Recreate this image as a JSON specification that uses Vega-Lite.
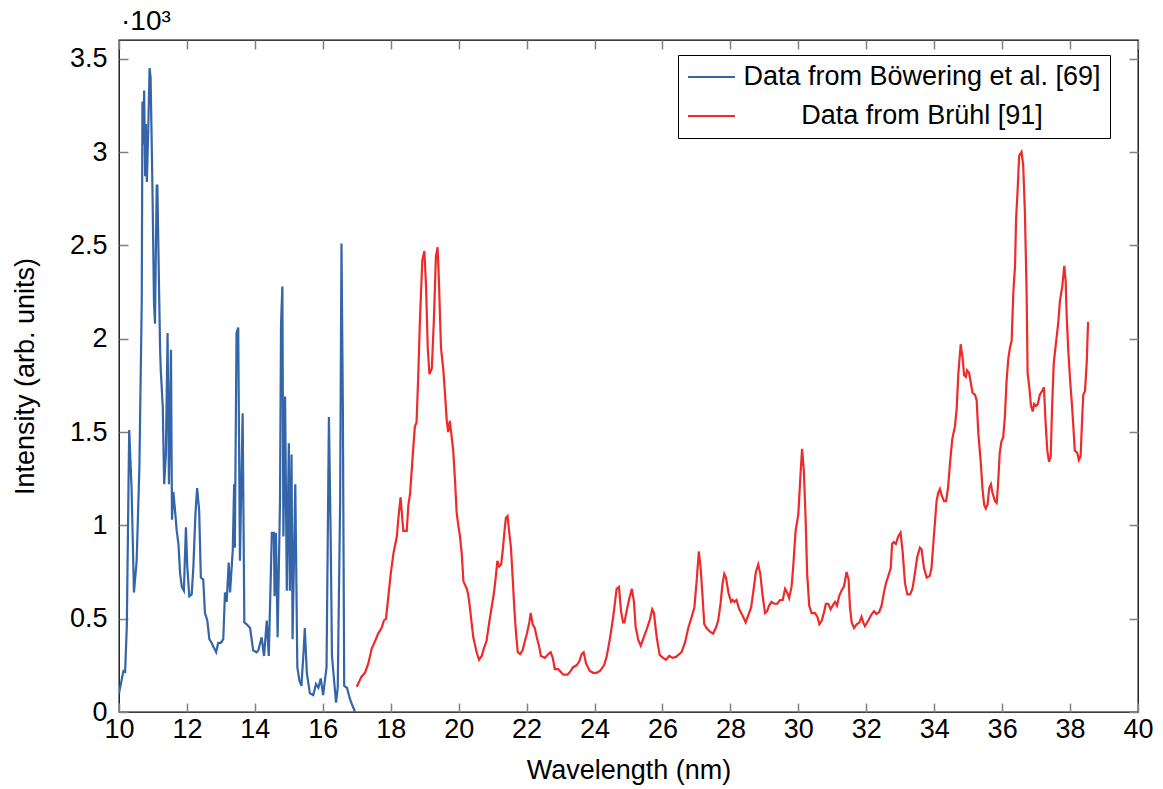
{
  "$schema": "https://vega.github.io/schema/vega-lite/v6.json",
  "width": 1019,
  "height": 672,
  "autosize": {"type": "none"},
  "padding": {"left": 119, "top": 40, "right": 25, "bottom": 77},
  "background": "white",
  "title": {"text": "·10³", "anchor": "start", "frame": "group", "font": "Liberation Sans", "fontSize": 28, "fontWeight": "normal", "color": "black", "offset": 3, "dx": 2},
  "config": {
    "view": {"stroke": "black", "strokeWidth": 1.3},
    "font": "Liberation Sans",
    "axis": {"domain": false, "grid": false, "tickColor": "#808080", "tickWidth": 1.5, "labelColor": "black", "titleColor": "black", "labelFont": "Liberation Sans", "titleFont": "Liberation Sans", "labelFontSize": 27, "titleFontSize": 27, "titleFontWeight": "normal"}
  },
  "datasets": {
    "blue": [
      {"series": "Data from Böwering et al. [69]", "wavelength": 10.00, "intensity": 100},
      {"series": "Data from Böwering et al. [69]", "wavelength": 10.13, "intensity": 220},
      {"series": "Data from Böwering et al. [69]", "wavelength": 10.18, "intensity": 215},
      {"series": "Data from Böwering et al. [69]", "wavelength": 10.23, "intensity": 460},
      {"series": "Data from Böwering et al. [69]", "wavelength": 10.30, "intensity": 1510},
      {"series": "Data from Böwering et al. [69]", "wavelength": 10.37, "intensity": 1200},
      {"series": "Data from Böwering et al. [69]", "wavelength": 10.44, "intensity": 640},
      {"series": "Data from Böwering et al. [69]", "wavelength": 10.52, "intensity": 810},
      {"series": "Data from Böwering et al. [69]", "wavelength": 10.60, "intensity": 1310},
      {"series": "Data from Böwering et al. [69]", "wavelength": 10.67, "intensity": 2200},
      {"series": "Data from Böwering et al. [69]", "wavelength": 10.69, "intensity": 3270},
      {"series": "Data from Böwering et al. [69]", "wavelength": 10.72, "intensity": 3040},
      {"series": "Data from Böwering et al. [69]", "wavelength": 10.74, "intensity": 3330},
      {"series": "Data from Böwering et al. [69]", "wavelength": 10.77, "intensity": 2870},
      {"series": "Data from Böwering et al. [69]", "wavelength": 10.79, "intensity": 3150},
      {"series": "Data from Böwering et al. [69]", "wavelength": 10.82, "intensity": 2840},
      {"series": "Data from Böwering et al. [69]", "wavelength": 10.86, "intensity": 3110},
      {"series": "Data from Böwering et al. [69]", "wavelength": 10.90, "intensity": 3450},
      {"series": "Data from Böwering et al. [69]", "wavelength": 10.93, "intensity": 3400},
      {"series": "Data from Böwering et al. [69]", "wavelength": 10.96, "intensity": 3080},
      {"series": "Data from Böwering et al. [69]", "wavelength": 10.99, "intensity": 2740},
      {"series": "Data from Böwering et al. [69]", "wavelength": 11.03, "intensity": 2190},
      {"series": "Data from Böwering et al. [69]", "wavelength": 11.06, "intensity": 2080},
      {"series": "Data from Böwering et al. [69]", "wavelength": 11.08, "intensity": 2400},
      {"series": "Data from Böwering et al. [69]", "wavelength": 11.11, "intensity": 2820},
      {"series": "Data from Böwering et al. [69]", "wavelength": 11.13, "intensity": 2820},
      {"series": "Data from Böwering et al. [69]", "wavelength": 11.18, "intensity": 2260},
      {"series": "Data from Böwering et al. [69]", "wavelength": 11.21, "intensity": 1940},
      {"series": "Data from Böwering et al. [69]", "wavelength": 11.23, "intensity": 1830},
      {"series": "Data from Böwering et al. [69]", "wavelength": 11.29, "intensity": 1630},
      {"series": "Data from Böwering et al. [69]", "wavelength": 11.30, "intensity": 1510},
      {"series": "Data from Böwering et al. [69]", "wavelength": 11.33, "intensity": 1220},
      {"series": "Data from Böwering et al. [69]", "wavelength": 11.38, "intensity": 1380},
      {"series": "Data from Böwering et al. [69]", "wavelength": 11.43, "intensity": 2030},
      {"series": "Data from Böwering et al. [69]", "wavelength": 11.47, "intensity": 1220},
      {"series": "Data from Böwering et al. [69]", "wavelength": 11.53, "intensity": 1940},
      {"series": "Data from Böwering et al. [69]", "wavelength": 11.56, "intensity": 1030},
      {"series": "Data from Böwering et al. [69]", "wavelength": 11.60, "intensity": 1180},
      {"series": "Data from Böwering et al. [69]", "wavelength": 11.65, "intensity": 1080},
      {"series": "Data from Böwering et al. [69]", "wavelength": 11.70, "intensity": 970},
      {"series": "Data from Böwering et al. [69]", "wavelength": 11.75, "intensity": 900},
      {"series": "Data from Böwering et al. [69]", "wavelength": 11.80, "intensity": 740},
      {"series": "Data from Böwering et al. [69]", "wavelength": 11.85, "intensity": 670},
      {"series": "Data from Böwering et al. [69]", "wavelength": 11.91, "intensity": 650},
      {"series": "Data from Böwering et al. [69]", "wavelength": 11.97, "intensity": 990},
      {"series": "Data from Böwering et al. [69]", "wavelength": 12.01, "intensity": 780},
      {"series": "Data from Böwering et al. [69]", "wavelength": 12.07, "intensity": 620},
      {"series": "Data from Böwering et al. [69]", "wavelength": 12.14, "intensity": 630},
      {"series": "Data from Böwering et al. [69]", "wavelength": 12.19, "intensity": 780},
      {"series": "Data from Böwering et al. [69]", "wavelength": 12.25, "intensity": 1060},
      {"series": "Data from Böwering et al. [69]", "wavelength": 12.30, "intensity": 1200},
      {"series": "Data from Böwering et al. [69]", "wavelength": 12.36, "intensity": 1080},
      {"series": "Data from Böwering et al. [69]", "wavelength": 12.41, "intensity": 720},
      {"series": "Data from Böwering et al. [69]", "wavelength": 12.48, "intensity": 710},
      {"series": "Data from Böwering et al. [69]", "wavelength": 12.53, "intensity": 530},
      {"series": "Data from Böwering et al. [69]", "wavelength": 12.60, "intensity": 490},
      {"series": "Data from Böwering et al. [69]", "wavelength": 12.66, "intensity": 390},
      {"series": "Data from Böwering et al. [69]", "wavelength": 12.73, "intensity": 370},
      {"series": "Data from Böwering et al. [69]", "wavelength": 12.78, "intensity": 350},
      {"series": "Data from Böwering et al. [69]", "wavelength": 12.86, "intensity": 320},
      {"series": "Data from Böwering et al. [69]", "wavelength": 12.92, "intensity": 370},
      {"series": "Data from Böwering et al. [69]", "wavelength": 13.00, "intensity": 370},
      {"series": "Data from Böwering et al. [69]", "wavelength": 13.07, "intensity": 390},
      {"series": "Data from Böwering et al. [69]", "wavelength": 13.12, "intensity": 640},
      {"series": "Data from Böwering et al. [69]", "wavelength": 13.17, "intensity": 590},
      {"series": "Data from Böwering et al. [69]", "wavelength": 13.23, "intensity": 800},
      {"series": "Data from Böwering et al. [69]", "wavelength": 13.27, "intensity": 640},
      {"series": "Data from Böwering et al. [69]", "wavelength": 13.35, "intensity": 870},
      {"series": "Data from Böwering et al. [69]", "wavelength": 13.39, "intensity": 1220},
      {"series": "Data from Böwering et al. [69]", "wavelength": 13.41, "intensity": 880},
      {"series": "Data from Böwering et al. [69]", "wavelength": 13.46, "intensity": 2030},
      {"series": "Data from Böwering et al. [69]", "wavelength": 13.51, "intensity": 2060},
      {"series": "Data from Böwering et al. [69]", "wavelength": 13.56, "intensity": 810},
      {"series": "Data from Böwering et al. [69]", "wavelength": 13.64, "intensity": 1600},
      {"series": "Data from Böwering et al. [69]", "wavelength": 13.69, "intensity": 480},
      {"series": "Data from Böwering et al. [69]", "wavelength": 13.76, "intensity": 470},
      {"series": "Data from Böwering et al. [69]", "wavelength": 13.86, "intensity": 450},
      {"series": "Data from Böwering et al. [69]", "wavelength": 13.95, "intensity": 330},
      {"series": "Data from Böwering et al. [69]", "wavelength": 14.05, "intensity": 320},
      {"series": "Data from Böwering et al. [69]", "wavelength": 14.10, "intensity": 330},
      {"series": "Data from Böwering et al. [69]", "wavelength": 14.20, "intensity": 400},
      {"series": "Data from Böwering et al. [69]", "wavelength": 14.27, "intensity": 300},
      {"series": "Data from Böwering et al. [69]", "wavelength": 14.35, "intensity": 490},
      {"series": "Data from Böwering et al. [69]", "wavelength": 14.41, "intensity": 300},
      {"series": "Data from Böwering et al. [69]", "wavelength": 14.50, "intensity": 960},
      {"series": "Data from Böwering et al. [69]", "wavelength": 14.56, "intensity": 960},
      {"series": "Data from Böwering et al. [69]", "wavelength": 14.58, "intensity": 620},
      {"series": "Data from Böwering et al. [69]", "wavelength": 14.62, "intensity": 960},
      {"series": "Data from Böwering et al. [69]", "wavelength": 14.67, "intensity": 400},
      {"series": "Data from Böwering et al. [69]", "wavelength": 14.74, "intensity": 1130},
      {"series": "Data from Böwering et al. [69]", "wavelength": 14.77, "intensity": 2080},
      {"series": "Data from Böwering et al. [69]", "wavelength": 14.81, "intensity": 2280},
      {"series": "Data from Böwering et al. [69]", "wavelength": 14.84, "intensity": 940},
      {"series": "Data from Böwering et al. [69]", "wavelength": 14.89, "intensity": 1690},
      {"series": "Data from Böwering et al. [69]", "wavelength": 14.94, "intensity": 650},
      {"series": "Data from Böwering et al. [69]", "wavelength": 15.00, "intensity": 1440},
      {"series": "Data from Böwering et al. [69]", "wavelength": 15.03, "intensity": 650},
      {"series": "Data from Böwering et al. [69]", "wavelength": 15.08, "intensity": 1380},
      {"series": "Data from Böwering et al. [69]", "wavelength": 15.11, "intensity": 390},
      {"series": "Data from Böwering et al. [69]", "wavelength": 15.19, "intensity": 1220},
      {"series": "Data from Böwering et al. [69]", "wavelength": 15.25, "intensity": 240},
      {"series": "Data from Böwering et al. [69]", "wavelength": 15.31, "intensity": 170},
      {"series": "Data from Böwering et al. [69]", "wavelength": 15.37, "intensity": 140},
      {"series": "Data from Böwering et al. [69]", "wavelength": 15.43, "intensity": 310},
      {"series": "Data from Böwering et al. [69]", "wavelength": 15.47, "intensity": 450},
      {"series": "Data from Böwering et al. [69]", "wavelength": 15.53, "intensity": 210},
      {"series": "Data from Böwering et al. [69]", "wavelength": 15.62, "intensity": 100},
      {"series": "Data from Böwering et al. [69]", "wavelength": 15.72, "intensity": 90},
      {"series": "Data from Böwering et al. [69]", "wavelength": 15.80, "intensity": 150},
      {"series": "Data from Böwering et al. [69]", "wavelength": 15.87, "intensity": 130},
      {"series": "Data from Böwering et al. [69]", "wavelength": 15.94, "intensity": 180},
      {"series": "Data from Böwering et al. [69]", "wavelength": 16.01, "intensity": 90},
      {"series": "Data from Böwering et al. [69]", "wavelength": 16.11, "intensity": 240},
      {"series": "Data from Böwering et al. [69]", "wavelength": 16.18, "intensity": 1580},
      {"series": "Data from Böwering et al. [69]", "wavelength": 16.23, "intensity": 960},
      {"series": "Data from Böwering et al. [69]", "wavelength": 16.27, "intensity": 300},
      {"series": "Data from Böwering et al. [69]", "wavelength": 16.39, "intensity": 50},
      {"series": "Data from Böwering et al. [69]", "wavelength": 16.44, "intensity": 130},
      {"series": "Data from Böwering et al. [69]", "wavelength": 16.51, "intensity": 1130},
      {"series": "Data from Böwering et al. [69]", "wavelength": 16.55, "intensity": 2510},
      {"series": "Data from Böwering et al. [69]", "wavelength": 16.59, "intensity": 1650},
      {"series": "Data from Böwering et al. [69]", "wavelength": 16.63, "intensity": 140},
      {"series": "Data from Böwering et al. [69]", "wavelength": 16.71, "intensity": 130},
      {"series": "Data from Böwering et al. [69]", "wavelength": 16.80, "intensity": 70},
      {"series": "Data from Böwering et al. [69]", "wavelength": 16.86, "intensity": 40},
      {"series": "Data from Böwering et al. [69]", "wavelength": 16.95, "intensity": 0}
    ],
    "red": [
      {"series": "Data from Brühl [91]", "wavelength": 17.00, "intensity": 135},
      {"series": "Data from Brühl [91]", "wavelength": 17.14, "intensity": 190},
      {"series": "Data from Brühl [91]", "wavelength": 17.24, "intensity": 210},
      {"series": "Data from Brühl [91]", "wavelength": 17.34, "intensity": 260},
      {"series": "Data from Brühl [91]", "wavelength": 17.44, "intensity": 340},
      {"series": "Data from Brühl [91]", "wavelength": 17.54, "intensity": 380},
      {"series": "Data from Brühl [91]", "wavelength": 17.63, "intensity": 420},
      {"series": "Data from Brühl [91]", "wavelength": 17.73, "intensity": 450},
      {"series": "Data from Brühl [91]", "wavelength": 17.80, "intensity": 490},
      {"series": "Data from Brühl [91]", "wavelength": 17.86, "intensity": 500},
      {"series": "Data from Brühl [91]", "wavelength": 17.93, "intensity": 620},
      {"series": "Data from Brühl [91]", "wavelength": 18.00, "intensity": 740},
      {"series": "Data from Brühl [91]", "wavelength": 18.08, "intensity": 850},
      {"series": "Data from Brühl [91]", "wavelength": 18.18, "intensity": 940},
      {"series": "Data from Brühl [91]", "wavelength": 18.22, "intensity": 1030},
      {"series": "Data from Brühl [91]", "wavelength": 18.29, "intensity": 1150},
      {"series": "Data from Brühl [91]", "wavelength": 18.37, "intensity": 970},
      {"series": "Data from Brühl [91]", "wavelength": 18.47, "intensity": 970},
      {"series": "Data from Brühl [91]", "wavelength": 18.52, "intensity": 1110},
      {"series": "Data from Brühl [91]", "wavelength": 18.57, "intensity": 1170},
      {"series": "Data from Brühl [91]", "wavelength": 18.65, "intensity": 1380},
      {"series": "Data from Brühl [91]", "wavelength": 18.71, "intensity": 1530},
      {"series": "Data from Brühl [91]", "wavelength": 18.76, "intensity": 1550},
      {"series": "Data from Brühl [91]", "wavelength": 18.81, "intensity": 1800},
      {"series": "Data from Brühl [91]", "wavelength": 18.86, "intensity": 2100},
      {"series": "Data from Brühl [91]", "wavelength": 18.93, "intensity": 2420},
      {"series": "Data from Brühl [91]", "wavelength": 18.99, "intensity": 2470},
      {"series": "Data from Brühl [91]", "wavelength": 19.04, "intensity": 2280},
      {"series": "Data from Brühl [91]", "wavelength": 19.09, "intensity": 1950},
      {"series": "Data from Brühl [91]", "wavelength": 19.14, "intensity": 1810},
      {"series": "Data from Brühl [91]", "wavelength": 19.21, "intensity": 1840},
      {"series": "Data from Brühl [91]", "wavelength": 19.27, "intensity": 2100},
      {"series": "Data from Brühl [91]", "wavelength": 19.33, "intensity": 2440},
      {"series": "Data from Brühl [91]", "wavelength": 19.38, "intensity": 2490},
      {"series": "Data from Brühl [91]", "wavelength": 19.42, "intensity": 2300},
      {"series": "Data from Brühl [91]", "wavelength": 19.48, "intensity": 1950},
      {"series": "Data from Brühl [91]", "wavelength": 19.55, "intensity": 1830},
      {"series": "Data from Brühl [91]", "wavelength": 19.60, "intensity": 1700},
      {"series": "Data from Brühl [91]", "wavelength": 19.65, "intensity": 1560},
      {"series": "Data from Brühl [91]", "wavelength": 19.69, "intensity": 1500},
      {"series": "Data from Brühl [91]", "wavelength": 19.74, "intensity": 1560},
      {"series": "Data from Brühl [91]", "wavelength": 19.79, "intensity": 1480},
      {"series": "Data from Brühl [91]", "wavelength": 19.84, "intensity": 1400},
      {"series": "Data from Brühl [91]", "wavelength": 19.89, "intensity": 1250},
      {"series": "Data from Brühl [91]", "wavelength": 19.94, "intensity": 1070},
      {"series": "Data from Brühl [91]", "wavelength": 19.99, "intensity": 1000},
      {"series": "Data from Brühl [91]", "wavelength": 20.04, "intensity": 940},
      {"series": "Data from Brühl [91]", "wavelength": 20.09, "intensity": 850},
      {"series": "Data from Brühl [91]", "wavelength": 20.14, "intensity": 700},
      {"series": "Data from Brühl [91]", "wavelength": 20.24, "intensity": 660},
      {"series": "Data from Brühl [91]", "wavelength": 20.28, "intensity": 630},
      {"series": "Data from Brühl [91]", "wavelength": 20.33, "intensity": 560},
      {"series": "Data from Brühl [91]", "wavelength": 20.38, "intensity": 480},
      {"series": "Data from Brühl [91]", "wavelength": 20.43, "intensity": 400},
      {"series": "Data from Brühl [91]", "wavelength": 20.53, "intensity": 320},
      {"series": "Data from Brühl [91]", "wavelength": 20.60, "intensity": 280},
      {"series": "Data from Brühl [91]", "wavelength": 20.68, "intensity": 300},
      {"series": "Data from Brühl [91]", "wavelength": 20.74, "intensity": 340},
      {"series": "Data from Brühl [91]", "wavelength": 20.82, "intensity": 380},
      {"series": "Data from Brühl [91]", "wavelength": 20.90, "intensity": 480},
      {"series": "Data from Brühl [91]", "wavelength": 20.97, "intensity": 560},
      {"series": "Data from Brühl [91]", "wavelength": 21.04, "intensity": 640},
      {"series": "Data from Brühl [91]", "wavelength": 21.09, "intensity": 720},
      {"series": "Data from Brühl [91]", "wavelength": 21.14, "intensity": 810},
      {"series": "Data from Brühl [91]", "wavelength": 21.19, "intensity": 780},
      {"series": "Data from Brühl [91]", "wavelength": 21.25, "intensity": 790},
      {"series": "Data from Brühl [91]", "wavelength": 21.30, "intensity": 870},
      {"series": "Data from Brühl [91]", "wavelength": 21.35, "intensity": 970},
      {"series": "Data from Brühl [91]", "wavelength": 21.39, "intensity": 1040},
      {"series": "Data from Brühl [91]", "wavelength": 21.44, "intensity": 1050},
      {"series": "Data from Brühl [91]", "wavelength": 21.49, "intensity": 960},
      {"series": "Data from Brühl [91]", "wavelength": 21.54, "intensity": 880},
      {"series": "Data from Brühl [91]", "wavelength": 21.59, "intensity": 720},
      {"series": "Data from Brühl [91]", "wavelength": 21.64, "intensity": 550},
      {"series": "Data from Brühl [91]", "wavelength": 21.69, "intensity": 420},
      {"series": "Data from Brühl [91]", "wavelength": 21.74, "intensity": 320},
      {"series": "Data from Brühl [91]", "wavelength": 21.81, "intensity": 310},
      {"series": "Data from Brühl [91]", "wavelength": 21.88, "intensity": 330},
      {"series": "Data from Brühl [91]", "wavelength": 21.95, "intensity": 380},
      {"series": "Data from Brühl [91]", "wavelength": 22.01, "intensity": 420},
      {"series": "Data from Brühl [91]", "wavelength": 22.08, "intensity": 480},
      {"series": "Data from Brühl [91]", "wavelength": 22.12, "intensity": 530},
      {"series": "Data from Brühl [91]", "wavelength": 22.18, "intensity": 470},
      {"series": "Data from Brühl [91]", "wavelength": 22.24, "intensity": 450},
      {"series": "Data from Brühl [91]", "wavelength": 22.30, "intensity": 400},
      {"series": "Data from Brühl [91]", "wavelength": 22.37, "intensity": 350},
      {"series": "Data from Brühl [91]", "wavelength": 22.42, "intensity": 300},
      {"series": "Data from Brühl [91]", "wavelength": 22.54, "intensity": 290},
      {"series": "Data from Brühl [91]", "wavelength": 22.64, "intensity": 310},
      {"series": "Data from Brühl [91]", "wavelength": 22.71, "intensity": 320},
      {"series": "Data from Brühl [91]", "wavelength": 22.77, "intensity": 290},
      {"series": "Data from Brühl [91]", "wavelength": 22.83, "intensity": 230},
      {"series": "Data from Brühl [91]", "wavelength": 22.93, "intensity": 230},
      {"series": "Data from Brühl [91]", "wavelength": 22.98, "intensity": 220},
      {"series": "Data from Brühl [91]", "wavelength": 23.08, "intensity": 200},
      {"series": "Data from Brühl [91]", "wavelength": 23.20, "intensity": 200},
      {"series": "Data from Brühl [91]", "wavelength": 23.30, "intensity": 220},
      {"series": "Data from Brühl [91]", "wavelength": 23.37, "intensity": 240},
      {"series": "Data from Brühl [91]", "wavelength": 23.47, "intensity": 250},
      {"series": "Data from Brühl [91]", "wavelength": 23.55, "intensity": 270},
      {"series": "Data from Brühl [91]", "wavelength": 23.62, "intensity": 310},
      {"series": "Data from Brühl [91]", "wavelength": 23.68, "intensity": 320},
      {"series": "Data from Brühl [91]", "wavelength": 23.75, "intensity": 260},
      {"series": "Data from Brühl [91]", "wavelength": 23.86, "intensity": 220},
      {"series": "Data from Brühl [91]", "wavelength": 23.96, "intensity": 210},
      {"series": "Data from Brühl [91]", "wavelength": 24.06, "intensity": 210},
      {"series": "Data from Brühl [91]", "wavelength": 24.16, "intensity": 220},
      {"series": "Data from Brühl [91]", "wavelength": 24.28, "intensity": 250},
      {"series": "Data from Brühl [91]", "wavelength": 24.36, "intensity": 300},
      {"series": "Data from Brühl [91]", "wavelength": 24.45, "intensity": 390},
      {"series": "Data from Brühl [91]", "wavelength": 24.55, "intensity": 510},
      {"series": "Data from Brühl [91]", "wavelength": 24.65, "intensity": 660},
      {"series": "Data from Brühl [91]", "wavelength": 24.72, "intensity": 670},
      {"series": "Data from Brühl [91]", "wavelength": 24.78, "intensity": 540},
      {"series": "Data from Brühl [91]", "wavelength": 24.84, "intensity": 480},
      {"series": "Data from Brühl [91]", "wavelength": 24.88, "intensity": 480},
      {"series": "Data from Brühl [91]", "wavelength": 24.95, "intensity": 545},
      {"series": "Data from Brühl [91]", "wavelength": 25.02, "intensity": 605},
      {"series": "Data from Brühl [91]", "wavelength": 25.10, "intensity": 660},
      {"series": "Data from Brühl [91]", "wavelength": 25.16, "intensity": 590},
      {"series": "Data from Brühl [91]", "wavelength": 25.21, "intensity": 455},
      {"series": "Data from Brühl [91]", "wavelength": 25.29, "intensity": 385},
      {"series": "Data from Brühl [91]", "wavelength": 25.36, "intensity": 355},
      {"series": "Data from Brühl [91]", "wavelength": 25.43, "intensity": 390},
      {"series": "Data from Brühl [91]", "wavelength": 25.53, "intensity": 440},
      {"series": "Data from Brühl [91]", "wavelength": 25.63, "intensity": 495},
      {"series": "Data from Brühl [91]", "wavelength": 25.70, "intensity": 550},
      {"series": "Data from Brühl [91]", "wavelength": 25.75, "intensity": 530},
      {"series": "Data from Brühl [91]", "wavelength": 25.83, "intensity": 400},
      {"series": "Data from Brühl [91]", "wavelength": 25.92, "intensity": 305},
      {"series": "Data from Brühl [91]", "wavelength": 26.02, "intensity": 290},
      {"series": "Data from Brühl [91]", "wavelength": 26.10, "intensity": 280},
      {"series": "Data from Brühl [91]", "wavelength": 26.20, "intensity": 300},
      {"series": "Data from Brühl [91]", "wavelength": 26.30, "intensity": 290},
      {"series": "Data from Brühl [91]", "wavelength": 26.40, "intensity": 295},
      {"series": "Data from Brühl [91]", "wavelength": 26.49, "intensity": 310},
      {"series": "Data from Brühl [91]", "wavelength": 26.56, "intensity": 320},
      {"series": "Data from Brühl [91]", "wavelength": 26.66, "intensity": 370},
      {"series": "Data from Brühl [91]", "wavelength": 26.76, "intensity": 450},
      {"series": "Data from Brühl [91]", "wavelength": 26.86, "intensity": 510},
      {"series": "Data from Brühl [91]", "wavelength": 26.94, "intensity": 560},
      {"series": "Data from Brühl [91]", "wavelength": 27.01, "intensity": 710},
      {"series": "Data from Brühl [91]", "wavelength": 27.07, "intensity": 860},
      {"series": "Data from Brühl [91]", "wavelength": 27.12, "intensity": 780},
      {"series": "Data from Brühl [91]", "wavelength": 27.18, "intensity": 620},
      {"series": "Data from Brühl [91]", "wavelength": 27.23, "intensity": 470},
      {"series": "Data from Brühl [91]", "wavelength": 27.30, "intensity": 450},
      {"series": "Data from Brühl [91]", "wavelength": 27.40, "intensity": 430},
      {"series": "Data from Brühl [91]", "wavelength": 27.49, "intensity": 420},
      {"series": "Data from Brühl [91]", "wavelength": 27.57, "intensity": 450},
      {"series": "Data from Brühl [91]", "wavelength": 27.64, "intensity": 490},
      {"series": "Data from Brühl [91]", "wavelength": 27.71, "intensity": 580},
      {"series": "Data from Brühl [91]", "wavelength": 27.77, "intensity": 690},
      {"series": "Data from Brühl [91]", "wavelength": 27.82, "intensity": 740},
      {"series": "Data from Brühl [91]", "wavelength": 27.87, "intensity": 720},
      {"series": "Data from Brühl [91]", "wavelength": 27.94, "intensity": 640},
      {"series": "Data from Brühl [91]", "wavelength": 28.02, "intensity": 590},
      {"series": "Data from Brühl [91]", "wavelength": 28.07, "intensity": 600},
      {"series": "Data from Brühl [91]", "wavelength": 28.12, "intensity": 590},
      {"series": "Data from Brühl [91]", "wavelength": 28.18, "intensity": 600},
      {"series": "Data from Brühl [91]", "wavelength": 28.26, "intensity": 550},
      {"series": "Data from Brühl [91]", "wavelength": 28.35, "intensity": 520},
      {"series": "Data from Brühl [91]", "wavelength": 28.45, "intensity": 480},
      {"series": "Data from Brühl [91]", "wavelength": 28.53, "intensity": 520},
      {"series": "Data from Brühl [91]", "wavelength": 28.61, "intensity": 560},
      {"series": "Data from Brühl [91]", "wavelength": 28.67, "intensity": 640},
      {"series": "Data from Brühl [91]", "wavelength": 28.75, "intensity": 750},
      {"series": "Data from Brühl [91]", "wavelength": 28.82, "intensity": 790},
      {"series": "Data from Brühl [91]", "wavelength": 28.88, "intensity": 740},
      {"series": "Data from Brühl [91]", "wavelength": 28.95, "intensity": 620},
      {"series": "Data from Brühl [91]", "wavelength": 29.02, "intensity": 530},
      {"series": "Data from Brühl [91]", "wavelength": 29.08, "intensity": 540},
      {"series": "Data from Brühl [91]", "wavelength": 29.14, "intensity": 570},
      {"series": "Data from Brühl [91]", "wavelength": 29.21, "intensity": 590},
      {"series": "Data from Brühl [91]", "wavelength": 29.29, "intensity": 580},
      {"series": "Data from Brühl [91]", "wavelength": 29.38, "intensity": 580},
      {"series": "Data from Brühl [91]", "wavelength": 29.46, "intensity": 600},
      {"series": "Data from Brühl [91]", "wavelength": 29.54, "intensity": 600},
      {"series": "Data from Brühl [91]", "wavelength": 29.61, "intensity": 660},
      {"series": "Data from Brühl [91]", "wavelength": 29.67, "intensity": 640},
      {"series": "Data from Brühl [91]", "wavelength": 29.73, "intensity": 610},
      {"series": "Data from Brühl [91]", "wavelength": 29.80, "intensity": 670},
      {"series": "Data from Brühl [91]", "wavelength": 29.85, "intensity": 780},
      {"series": "Data from Brühl [91]", "wavelength": 29.92, "intensity": 970},
      {"series": "Data from Brühl [91]", "wavelength": 30.00, "intensity": 1060},
      {"series": "Data from Brühl [91]", "wavelength": 30.06, "intensity": 1260},
      {"series": "Data from Brühl [91]", "wavelength": 30.11, "intensity": 1410},
      {"series": "Data from Brühl [91]", "wavelength": 30.16, "intensity": 1300},
      {"series": "Data from Brühl [91]", "wavelength": 30.21, "intensity": 1060},
      {"series": "Data from Brühl [91]", "wavelength": 30.26, "intensity": 740},
      {"series": "Data from Brühl [91]", "wavelength": 30.32, "intensity": 570},
      {"series": "Data from Brühl [91]", "wavelength": 30.39, "intensity": 530},
      {"series": "Data from Brühl [91]", "wavelength": 30.49, "intensity": 530},
      {"series": "Data from Brühl [91]", "wavelength": 30.56, "intensity": 510},
      {"series": "Data from Brühl [91]", "wavelength": 30.62, "intensity": 470},
      {"series": "Data from Brühl [91]", "wavelength": 30.69, "intensity": 490},
      {"series": "Data from Brühl [91]", "wavelength": 30.75, "intensity": 530},
      {"series": "Data from Brühl [91]", "wavelength": 30.81, "intensity": 580},
      {"series": "Data from Brühl [91]", "wavelength": 30.88, "intensity": 580},
      {"series": "Data from Brühl [91]", "wavelength": 30.95, "intensity": 550},
      {"series": "Data from Brühl [91]", "wavelength": 31.01, "intensity": 570},
      {"series": "Data from Brühl [91]", "wavelength": 31.08, "intensity": 590},
      {"series": "Data from Brühl [91]", "wavelength": 31.14, "intensity": 570},
      {"series": "Data from Brühl [91]", "wavelength": 31.20, "intensity": 620},
      {"series": "Data from Brühl [91]", "wavelength": 31.27, "intensity": 650},
      {"series": "Data from Brühl [91]", "wavelength": 31.34, "intensity": 670},
      {"series": "Data from Brühl [91]", "wavelength": 31.42, "intensity": 750},
      {"series": "Data from Brühl [91]", "wavelength": 31.48, "intensity": 710},
      {"series": "Data from Brühl [91]", "wavelength": 31.52, "intensity": 560},
      {"series": "Data from Brühl [91]", "wavelength": 31.57, "intensity": 480},
      {"series": "Data from Brühl [91]", "wavelength": 31.64, "intensity": 450},
      {"series": "Data from Brühl [91]", "wavelength": 31.72, "intensity": 470},
      {"series": "Data from Brühl [91]", "wavelength": 31.80, "intensity": 480},
      {"series": "Data from Brühl [91]", "wavelength": 31.86, "intensity": 510},
      {"series": "Data from Brühl [91]", "wavelength": 31.91, "intensity": 480},
      {"series": "Data from Brühl [91]", "wavelength": 31.96, "intensity": 460},
      {"series": "Data from Brühl [91]", "wavelength": 32.06, "intensity": 490},
      {"series": "Data from Brühl [91]", "wavelength": 32.16, "intensity": 525},
      {"series": "Data from Brühl [91]", "wavelength": 32.23, "intensity": 540},
      {"series": "Data from Brühl [91]", "wavelength": 32.30, "intensity": 525},
      {"series": "Data from Brühl [91]", "wavelength": 32.38, "intensity": 535},
      {"series": "Data from Brühl [91]", "wavelength": 32.45, "intensity": 570},
      {"series": "Data from Brühl [91]", "wavelength": 32.52, "intensity": 640},
      {"series": "Data from Brühl [91]", "wavelength": 32.58, "intensity": 690},
      {"series": "Data from Brühl [91]", "wavelength": 32.65, "intensity": 730},
      {"series": "Data from Brühl [91]", "wavelength": 32.72, "intensity": 770},
      {"series": "Data from Brühl [91]", "wavelength": 32.76, "intensity": 900},
      {"series": "Data from Brühl [91]", "wavelength": 32.81, "intensity": 910},
      {"series": "Data from Brühl [91]", "wavelength": 32.87, "intensity": 900},
      {"series": "Data from Brühl [91]", "wavelength": 32.94, "intensity": 940},
      {"series": "Data from Brühl [91]", "wavelength": 33.01, "intensity": 960},
      {"series": "Data from Brühl [91]", "wavelength": 33.07, "intensity": 860},
      {"series": "Data from Brühl [91]", "wavelength": 33.14, "intensity": 690},
      {"series": "Data from Brühl [91]", "wavelength": 33.21, "intensity": 630},
      {"series": "Data from Brühl [91]", "wavelength": 33.29, "intensity": 630},
      {"series": "Data from Brühl [91]", "wavelength": 33.36, "intensity": 660},
      {"series": "Data from Brühl [91]", "wavelength": 33.43, "intensity": 740},
      {"series": "Data from Brühl [91]", "wavelength": 33.50, "intensity": 830},
      {"series": "Data from Brühl [91]", "wavelength": 33.58, "intensity": 880},
      {"series": "Data from Brühl [91]", "wavelength": 33.63, "intensity": 870},
      {"series": "Data from Brühl [91]", "wavelength": 33.70, "intensity": 770},
      {"series": "Data from Brühl [91]", "wavelength": 33.78, "intensity": 720},
      {"series": "Data from Brühl [91]", "wavelength": 33.87, "intensity": 730},
      {"series": "Data from Brühl [91]", "wavelength": 33.92, "intensity": 770},
      {"series": "Data from Brühl [91]", "wavelength": 33.99, "intensity": 940},
      {"series": "Data from Brühl [91]", "wavelength": 34.07, "intensity": 1130},
      {"series": "Data from Brühl [91]", "wavelength": 34.12, "intensity": 1175},
      {"series": "Data from Brühl [91]", "wavelength": 34.17, "intensity": 1195},
      {"series": "Data from Brühl [91]", "wavelength": 34.22, "intensity": 1160},
      {"series": "Data from Brühl [91]", "wavelength": 34.29, "intensity": 1130},
      {"series": "Data from Brühl [91]", "wavelength": 34.35, "intensity": 1130},
      {"series": "Data from Brühl [91]", "wavelength": 34.41, "intensity": 1205},
      {"series": "Data from Brühl [91]", "wavelength": 34.46, "intensity": 1320},
      {"series": "Data from Brühl [91]", "wavelength": 34.53, "intensity": 1460},
      {"series": "Data from Brühl [91]", "wavelength": 34.61, "intensity": 1530},
      {"series": "Data from Brühl [91]", "wavelength": 34.66, "intensity": 1620},
      {"series": "Data from Brühl [91]", "wavelength": 34.71, "intensity": 1810},
      {"series": "Data from Brühl [91]", "wavelength": 34.78, "intensity": 1970},
      {"series": "Data from Brühl [91]", "wavelength": 34.84, "intensity": 1890},
      {"series": "Data from Brühl [91]", "wavelength": 34.88, "intensity": 1805},
      {"series": "Data from Brühl [91]", "wavelength": 34.93, "intensity": 1795},
      {"series": "Data from Brühl [91]", "wavelength": 34.97, "intensity": 1830},
      {"series": "Data from Brühl [91]", "wavelength": 35.03, "intensity": 1815},
      {"series": "Data from Brühl [91]", "wavelength": 35.08, "intensity": 1760},
      {"series": "Data from Brühl [91]", "wavelength": 35.13, "intensity": 1710},
      {"series": "Data from Brühl [91]", "wavelength": 35.20, "intensity": 1700},
      {"series": "Data from Brühl [91]", "wavelength": 35.25, "intensity": 1670},
      {"series": "Data from Brühl [91]", "wavelength": 35.30, "intensity": 1490},
      {"series": "Data from Brühl [91]", "wavelength": 35.37, "intensity": 1340},
      {"series": "Data from Brühl [91]", "wavelength": 35.42, "intensity": 1200},
      {"series": "Data from Brühl [91]", "wavelength": 35.47, "intensity": 1110},
      {"series": "Data from Brühl [91]", "wavelength": 35.52, "intensity": 1090},
      {"series": "Data from Brühl [91]", "wavelength": 35.57, "intensity": 1110},
      {"series": "Data from Brühl [91]", "wavelength": 35.62, "intensity": 1200},
      {"series": "Data from Brühl [91]", "wavelength": 35.67, "intensity": 1220},
      {"series": "Data from Brühl [91]", "wavelength": 35.72, "intensity": 1170},
      {"series": "Data from Brühl [91]", "wavelength": 35.79, "intensity": 1130},
      {"series": "Data from Brühl [91]", "wavelength": 35.84, "intensity": 1120},
      {"series": "Data from Brühl [91]", "wavelength": 35.88, "intensity": 1220},
      {"series": "Data from Brühl [91]", "wavelength": 35.93, "intensity": 1390},
      {"series": "Data from Brühl [91]", "wavelength": 35.98, "intensity": 1450},
      {"series": "Data from Brühl [91]", "wavelength": 36.03, "intensity": 1470},
      {"series": "Data from Brühl [91]", "wavelength": 36.08, "intensity": 1580},
      {"series": "Data from Brühl [91]", "wavelength": 36.13, "intensity": 1770},
      {"series": "Data from Brühl [91]", "wavelength": 36.18, "intensity": 1890},
      {"series": "Data from Brühl [91]", "wavelength": 36.23, "intensity": 1950},
      {"series": "Data from Brühl [91]", "wavelength": 36.28, "intensity": 1990},
      {"series": "Data from Brühl [91]", "wavelength": 36.33, "intensity": 2250},
      {"series": "Data from Brühl [91]", "wavelength": 36.38, "intensity": 2390},
      {"series": "Data from Brühl [91]", "wavelength": 36.41, "intensity": 2640},
      {"series": "Data from Brühl [91]", "wavelength": 36.46, "intensity": 2810},
      {"series": "Data from Brühl [91]", "wavelength": 36.50, "intensity": 2980},
      {"series": "Data from Brühl [91]", "wavelength": 36.57, "intensity": 3000},
      {"series": "Data from Brühl [91]", "wavelength": 36.62, "intensity": 2930},
      {"series": "Data from Brühl [91]", "wavelength": 36.67, "intensity": 2680},
      {"series": "Data from Brühl [91]", "wavelength": 36.72, "intensity": 2250},
      {"series": "Data from Brühl [91]", "wavelength": 36.75, "intensity": 1815},
      {"series": "Data from Brühl [91]", "wavelength": 36.80, "intensity": 1740},
      {"series": "Data from Brühl [91]", "wavelength": 36.85, "intensity": 1640},
      {"series": "Data from Brühl [91]", "wavelength": 36.90, "intensity": 1610},
      {"series": "Data from Brühl [91]", "wavelength": 36.94, "intensity": 1650},
      {"series": "Data from Brühl [91]", "wavelength": 37.00, "intensity": 1640},
      {"series": "Data from Brühl [91]", "wavelength": 37.05, "intensity": 1650},
      {"series": "Data from Brühl [91]", "wavelength": 37.11, "intensity": 1700},
      {"series": "Data from Brühl [91]", "wavelength": 37.18, "intensity": 1720},
      {"series": "Data from Brühl [91]", "wavelength": 37.23, "intensity": 1740},
      {"series": "Data from Brühl [91]", "wavelength": 37.28, "intensity": 1550},
      {"series": "Data from Brühl [91]", "wavelength": 37.33, "intensity": 1400},
      {"series": "Data from Brühl [91]", "wavelength": 37.38, "intensity": 1340},
      {"series": "Data from Brühl [91]", "wavelength": 37.43, "intensity": 1370},
      {"series": "Data from Brühl [91]", "wavelength": 37.47, "intensity": 1630},
      {"series": "Data from Brühl [91]", "wavelength": 37.52, "intensity": 1870},
      {"series": "Data from Brühl [91]", "wavelength": 37.58, "intensity": 1970},
      {"series": "Data from Brühl [91]", "wavelength": 37.65, "intensity": 2080},
      {"series": "Data from Brühl [91]", "wavelength": 37.70, "intensity": 2200},
      {"series": "Data from Brühl [91]", "wavelength": 37.77, "intensity": 2280},
      {"series": "Data from Brühl [91]", "wavelength": 37.83, "intensity": 2390},
      {"series": "Data from Brühl [91]", "wavelength": 37.87, "intensity": 2310},
      {"series": "Data from Brühl [91]", "wavelength": 37.90, "intensity": 2120},
      {"series": "Data from Brühl [91]", "wavelength": 37.95, "intensity": 1930},
      {"series": "Data from Brühl [91]", "wavelength": 38.00, "intensity": 1780},
      {"series": "Data from Brühl [91]", "wavelength": 38.05, "intensity": 1660},
      {"series": "Data from Brühl [91]", "wavelength": 38.09, "intensity": 1550},
      {"series": "Data from Brühl [91]", "wavelength": 38.14, "intensity": 1400},
      {"series": "Data from Brühl [91]", "wavelength": 38.21, "intensity": 1390},
      {"series": "Data from Brühl [91]", "wavelength": 38.26, "intensity": 1350},
      {"series": "Data from Brühl [91]", "wavelength": 38.31, "intensity": 1370},
      {"series": "Data from Brühl [91]", "wavelength": 38.36, "intensity": 1590},
      {"series": "Data from Brühl [91]", "wavelength": 38.39, "intensity": 1700},
      {"series": "Data from Brühl [91]", "wavelength": 38.44, "intensity": 1720},
      {"series": "Data from Brühl [91]", "wavelength": 38.49, "intensity": 1870},
      {"series": "Data from Brühl [91]", "wavelength": 38.53, "intensity": 2090}
    ]
  },
  "layer": [
    {
      "data": {"name": "blue"},
      "mark": {"type": "line", "strokeWidth": 2.2, "clip": true},
      "encoding": {
        "x": {"field": "wavelength", "type": "quantitative", "scale": {"domain": [10, 40], "nice": false, "zero": false},
          "axis": {"orient": "bottom", "title": "Wavelength (nm)", "values": [10, 12, 14, 16, 18, 20, 22, 24, 26, 28, 30, 32, 34, 36, 38, 40], "tickSize": -9, "labelPadding": 13, "titlePadding": 15, "labelFlush": false}},
        "y": {"field": "intensity", "type": "quantitative", "scale": {"domain": [0, 3600], "nice": false},
          "axis": {"orient": "left", "title": "Intensity (arb. units)", "values": [0, 500, 1000, 1500, 2000, 2500, 3000, 3500], "labelExpr": "datum.value / 1000", "tickSize": -9, "labelPadding": 21, "titlePadding": 30, "labelFlush": false}},
        "color": {"field": "series", "type": "nominal",
          "scale": {"domain": ["Data from Böwering et al. [69]", "Data from Brühl [91]"], "range": ["#3465a8", "#ee2a2a"]},
          "legend": {"orient": "none", "legendX": 559, "legendY": 15, "title": null, "strokeColor": "black", "fillColor": "white", "padding": 9, "symbolType": "stroke", "symbolSize": 2200, "symbolStrokeWidth": 2, "clipHeight": 26, "labelFont": "Liberation Sans", "labelFontSize": 27, "labelColor": "black", "labelAlign": "center", "labelOffset": 186, "labelLimit": 600, "rowPadding": 12}}
      }
    },
    {
      "data": {"name": "red"},
      "mark": {"type": "line", "strokeWidth": 2.2, "clip": true},
      "encoding": {
        "x": {"field": "wavelength", "type": "quantitative",
          "axis": {"orient": "top", "title": null, "labels": false, "values": [10, 12, 14, 16, 18, 20, 22, 24, 26, 28, 30, 32, 34, 36, 38, 40], "tickSize": -9}},
        "y": {"field": "intensity", "type": "quantitative",
          "axis": {"orient": "right", "title": null, "labels": false, "values": [0, 500, 1000, 1500, 2000, 2500, 3000, 3500], "tickSize": -9}},
        "color": {"field": "series", "type": "nominal"}
      }
    }
  ],
  "resolve": {"axis": {"x": "independent", "y": "independent"}}
}
